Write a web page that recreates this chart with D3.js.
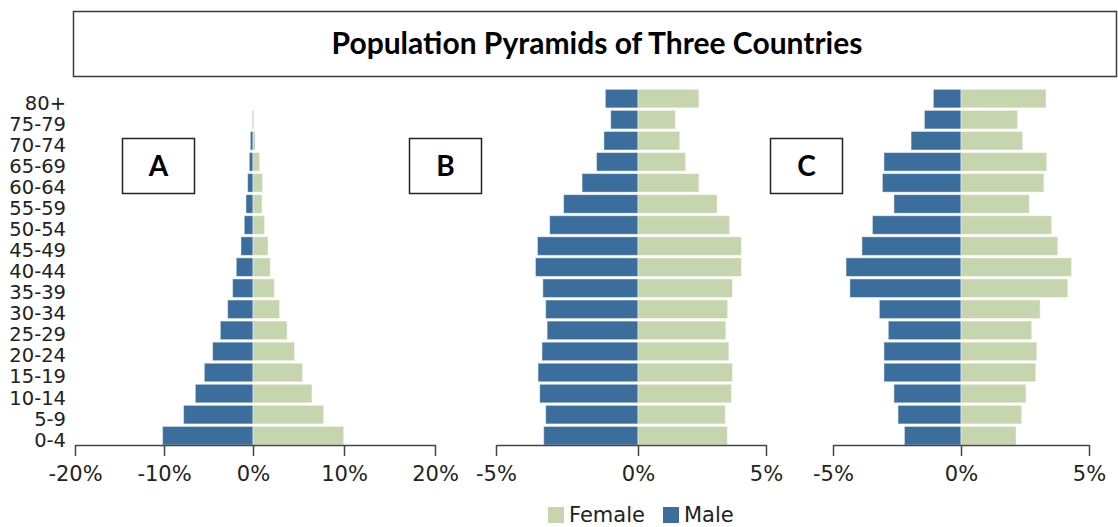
<!DOCTYPE html>
<html>
<head>
<meta charset="utf-8">
<script src="https://cdn.jsdelivr.net/npm/d3@7"></script>
<style>
  body { margin: 0; background: #fff; }
</style>
</head>
<body>
<div id="chart"></div>
<script>
// age groups, top to bottom
var ageGroups = ["80+", "75-79", "70-74", "65-69", "60-64", "55-59", "50-54", "45-49",
  "40-44", "35-39", "30-34", "25-29", "20-24", "15-19", "10-14", "5-9", "0-4"];

// percent of population, same order as ageGroups
var maleA   = [0, 0.05, 0.3, 0.42, 0.6, 0.79, 0.98, 1.35, 1.88, 2.29, 2.85, 3.67, 4.54, 5.47, 6.48, 7.8, 10.16];
var femaleA = [0, 0.1, 0.25, 0.73, 1.05, 1.0, 1.27, 1.65, 1.9, 2.34, 2.92, 3.74, 4.57, 5.45, 6.48, 7.76, 9.96];

var maleB   = [1.15, 0.96, 1.2, 1.46, 1.97, 2.62, 3.11, 3.54, 3.61, 3.35, 3.25, 3.2, 3.38, 3.52, 3.46, 3.25, 3.32];
var femaleB = [2.38, 1.46, 1.63, 1.86, 2.38, 3.09, 3.58, 4.04, 4.04, 3.69, 3.5, 3.43, 3.55, 3.69, 3.65, 3.41, 3.49];

var maleC   = [1.08, 1.43, 1.95, 3.01, 3.07, 2.62, 3.46, 3.87, 4.49, 4.34, 3.19, 2.84, 3.01, 3.01, 2.62, 2.46, 2.21];
var femaleC = [3.32, 2.21, 2.41, 3.35, 3.24, 2.67, 3.54, 3.78, 4.32, 4.17, 3.09, 2.76, 2.96, 2.92, 2.54, 2.37, 2.15];

var ticksA = [-20, -10, 0, 10, 20];
var ticksBC = [-5, 0, 5];
var panelNames = ["A", "B", "C"];
var legendLabels = ["Female", "Male"];

var maleColor = "#3b6d9d";
var femaleColor = "#c6d5ae";
var textFont = "'DejaVu Sans', Verdana, sans-serif";
var boldFont = "Lato, 'Open Sans', sans-serif";

var svg = d3.select('#chart').append('svg')
  .attr('width', 1118)
  .attr('height', 527);

// title box
svg.append('rect')
  .attr('x', 73.5).attr('y', 11.5)
  .attr('width', 1043).attr('height', 65)
  .attr('fill', 'none')
  .attr('stroke', '#3a3a3a')
  .attr('stroke-width', 1.5);
svg.append('text')
  .attr('x', 597).attr('y', 54)
  .attr('text-anchor', 'middle')
  .attr('font-family', boldFont)
  .attr('font-weight', 'bold')
  .attr('font-size', 30)
  .attr('fill', '#000')
  .text("Population Pyramids of Three Countries");

var y = d3.scaleBand()
  .domain(ageGroups)
  .range([86.8, 447.5])
  .padding(0.12);

// age labels on the left
svg.append('g').selectAll('text')
  .data(ageGroups)
  .enter().append('text')
  .attr('x', 66)
  .attr('y', function(d) { return y(d) + y.bandwidth() / 2 + 11; })
  .attr('text-anchor', 'end')
  .attr('font-family', textFont)
  .attr('font-size', 19.5)
  .attr('fill', '#222')
  .text(function(d) { return d; });

var panels = [
  { name: panelNames[0], male: maleA, female: femaleA, ticks: ticksA,
    x: d3.scaleLinear().domain([-20, 0, 20]).range([75, 253, 435]), box: [122, 138] },
  { name: panelNames[1], male: maleB, female: femaleB, ticks: ticksBC,
    x: d3.scaleLinear().domain([-5, 0, 5]).range([496, 638, 766]), box: [409, 138] },
  { name: panelNames[2], male: maleC, female: femaleC, ticks: ticksBC,
    x: d3.scaleLinear().domain([-5, 0, 5]).range([833, 961, 1089]), box: [770, 138] }
];

panels.forEach(function(p) {
  var g = svg.append('g');

  // male bars go left
  g.selectAll('rect.male')
    .data(p.male)
    .enter().append('rect')
    .attr('class', 'male')
    .attr('x', function(d) { return p.x(-d); })
    .attr('y', function(d, i) { return y(ageGroups[i]); })
    .attr('width', function(d) { return p.x(0) - p.x(-d); })
    .attr('height', y.bandwidth())
    .attr('fill', maleColor)
    .attr('stroke', 'rgba(255,255,255,0.45)')
    .attr('stroke-width', 1);

  // female bars go right
  g.selectAll('rect.female')
    .data(p.female)
    .enter().append('rect')
    .attr('class', 'female')
    .attr('x', function(d) { return p.x(0); })
    .attr('y', function(d, i) { return y(ageGroups[i]); })
    .attr('width', function(d) { return p.x(d) - p.x(0); })
    .attr('height', y.bandwidth())
    .attr('fill', femaleColor)
    .attr('stroke', 'rgba(255,255,255,0.45)')
    .attr('stroke-width', 1);

  var axis = d3.axisBottom(p.x)
    .tickValues(p.ticks)
    .tickFormat(function(d) { return d + '%'; })
    .tickSizeInner(11)
    .tickSizeOuter(0)
    .tickPadding(10);

  var ax = g.append('g')
    .attr('transform', 'translate(0,445)')
    .call(axis);
  ax.select('.domain').attr('stroke', '#444').attr('stroke-width', 1.5);
  ax.selectAll('.tick line').attr('stroke', '#444').attr('stroke-width', 1.5);
  ax.selectAll('.tick text')
    .attr('font-family', textFont)
    .attr('font-size', 21)
    .attr('fill', '#222');

  // letter box
  g.append('rect')
    .attr('x', p.box[0] + 0.5).attr('y', p.box[1] + 0.5)
    .attr('width', 72).attr('height', 55)
    .attr('fill', '#fff')
    .attr('stroke', '#222')
    .attr('stroke-width', 1.5);
  g.append('text')
    .attr('x', p.box[0] + 36.5).attr('y', p.box[1] + 38)
    .attr('text-anchor', 'middle')
    .attr('font-family', boldFont)
    .attr('font-weight', 'bold')
    .attr('font-size', 28)
    .attr('fill', '#000')
    .text(p.name);
});

// legend
var legendColors = [femaleColor, maleColor];
var legendX = [548, 663];
var lg = svg.append('g');
for (var i = 0; i < legendLabels.length; i++) {
  lg.append('rect')
    .attr('x', legendX[i]).attr('y', 507)
    .attr('width', 16).attr('height', 16)
    .attr('fill', legendColors[i]);
  lg.append('text')
    .attr('x', legendX[i] + 21).attr('y', 522)
    .attr('font-family', textFont)
    .attr('font-size', 21)
    .attr('fill', '#222')
    .text(legendLabels[i]);
}
</script>
</body>
</html>
